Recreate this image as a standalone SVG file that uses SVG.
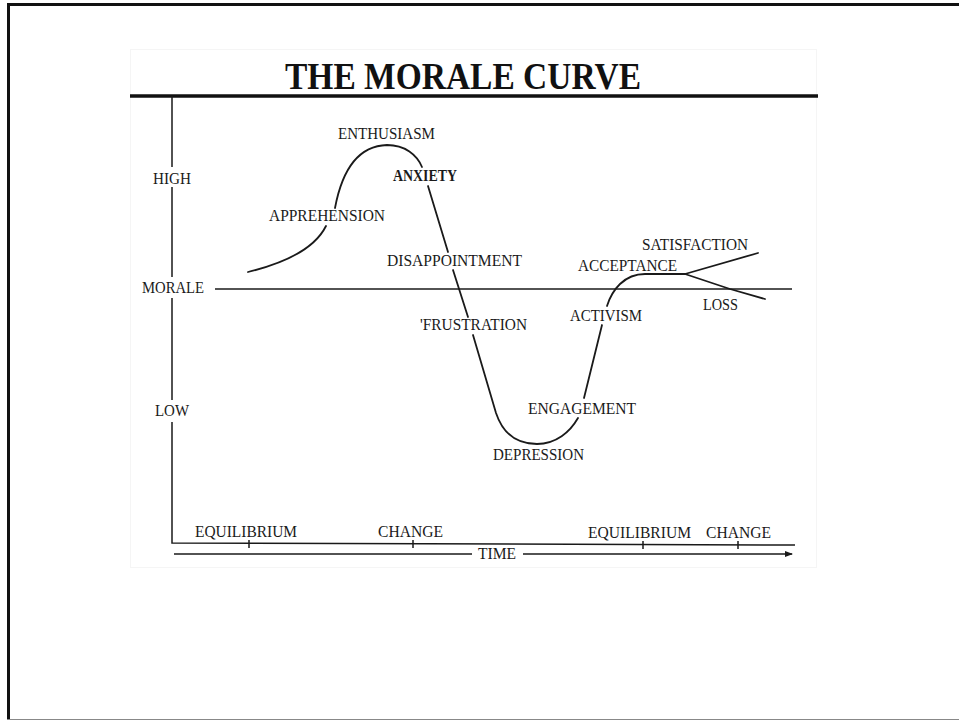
<svg xmlns="http://www.w3.org/2000/svg" width="959" height="721" viewBox="0 0 959 721">
<defs>
<style>
.lbl{font-family:"Liberation Serif","Times New Roman",serif;font-size:16px;fill:#1a1a1a;}
.ttl{font-family:"Liberation Serif","Times New Roman",serif;font-size:38px;font-weight:bold;fill:#111;}
.ln{fill:none;stroke:#1a1a1a;stroke-width:1.8;stroke-linecap:round;stroke-linejoin:round;}
.ax{fill:none;stroke:#1a1a1a;stroke-width:1.5;}
</style>
<marker id="arr" markerWidth="8" markerHeight="6" refX="7" refY="3" orient="auto" markerUnits="userSpaceOnUse">
<path d="M0,0 L8,3 L0,6 Z" fill="#1a1a1a"/>
</marker>
</defs>
<rect width="959" height="721" fill="#fff"/>
<g id="slide-border">
<line x1="7" y1="4.5" x2="959" y2="4.5" stroke="#111" stroke-width="3"/>
<line x1="8.5" y1="3" x2="8.5" y2="720" stroke="#111" stroke-width="3"/>
<line x1="7" y1="719.5" x2="959" y2="719.5" stroke="#888" stroke-width="1"/>
</g>
<rect x="130.5" y="49.5" width="686" height="518" fill="none" stroke="#f5f5f5" stroke-width="1"/>
<g id="title">
<text class="ttl" x="285" y="89" textLength="356" lengthAdjust="spacingAndGlyphs">THE MORALE CURVE</text>
<line x1="130" y1="96" x2="818" y2="96" stroke="#111" stroke-width="3.5"/>
</g>
<g id="axes">
<path class="ax" d="M172,96 V167 M172,187 V277 M172,298 V400 M172,422 V543 L795,545"/>
<path class="ax" d="M249,540 V548 M413,540 V548 M643,541 V549 M738,541 V549"/>
<line class="ax" x1="215" y1="289" x2="792" y2="289"/>
<line class="ax" x1="174" y1="554" x2="472" y2="554"/>
<line class="ax" x1="523" y1="554" x2="792" y2="554" marker-end="url(#arr)"/>
</g>
<g id="axis-labels">
<text class="lbl" x="153" y="184" textLength="38" lengthAdjust="spacingAndGlyphs">HIGH</text>
<text class="lbl" x="142" y="293" textLength="62" lengthAdjust="spacingAndGlyphs">MORALE</text>
<text class="lbl" x="155" y="416" textLength="34" lengthAdjust="spacingAndGlyphs">LOW</text>
<text class="lbl" x="195" y="537" textLength="102" lengthAdjust="spacingAndGlyphs">EQUILIBRIUM</text>
<text class="lbl" x="378" y="537" textLength="65" lengthAdjust="spacingAndGlyphs">CHANGE</text>
<text class="lbl" x="588" y="538" textLength="103" lengthAdjust="spacingAndGlyphs">EQUILIBRIUM</text>
<text class="lbl" x="706" y="538" textLength="65" lengthAdjust="spacingAndGlyphs">CHANGE</text>
<text class="lbl" x="478" y="559" textLength="38" lengthAdjust="spacingAndGlyphs">TIME</text>
</g>
<g id="connectors">
<path class="ln" d="M248,272 C285,263 315,248 326,226"/>
<path class="ln" d="M335,208 C341,176 355,146 387,145 C405,145 417,155 422,167"/>
<path class="ln" d="M428,186 L448,252"/>
<path class="ln" d="M453,270 L468,317"/>
<path class="ln" d="M473,335 L496,413 C504,437 520,444 537,444 C556,444 570,432 578,418"/>
<path class="ln" d="M584,398 L602,325"/>
<path class="ln" d="M607,306 C612,290 624,274 645,274 L685,274"/>
<path class="ln" d="M685,274 L758,253"/>
<path class="ln" d="M685,274 L730,289 L765,299"/>
</g>
<g id="node-enthusiasm"><text class="lbl" x="338" y="139" textLength="97" lengthAdjust="spacingAndGlyphs">ENTHUSIASM</text></g>
<g id="node-anxiety"><text class="lbl" x="393" y="181" textLength="64" lengthAdjust="spacingAndGlyphs" font-weight="bold">ANXIETY</text></g>
<g id="node-apprehension"><text class="lbl" x="269" y="221" textLength="116" lengthAdjust="spacingAndGlyphs">APPREHENSION</text></g>
<g id="node-disappointment"><text class="lbl" x="387" y="266" textLength="135" lengthAdjust="spacingAndGlyphs">DISAPPOINTMENT</text></g>
<g id="node-frustration"><text class="lbl" x="420" y="330" textLength="107" lengthAdjust="spacingAndGlyphs">'FRUSTRATION</text></g>
<g id="node-engagement"><text class="lbl" x="528" y="414" textLength="108" lengthAdjust="spacingAndGlyphs">ENGAGEMENT</text></g>
<g id="node-depression"><text class="lbl" x="493" y="460" textLength="91" lengthAdjust="spacingAndGlyphs">DEPRESSION</text></g>
<g id="node-activism"><text class="lbl" x="570" y="321" textLength="72" lengthAdjust="spacingAndGlyphs">ACTIVISM</text></g>
<g id="node-acceptance"><text class="lbl" x="578" y="271" textLength="99" lengthAdjust="spacingAndGlyphs">ACCEPTANCE</text></g>
<g id="node-satisfaction"><text class="lbl" x="642" y="250" textLength="106" lengthAdjust="spacingAndGlyphs">SATISFACTION</text></g>
<g id="node-loss"><text class="lbl" x="703" y="310" textLength="35" lengthAdjust="spacingAndGlyphs">LOSS</text></g>
</svg>
